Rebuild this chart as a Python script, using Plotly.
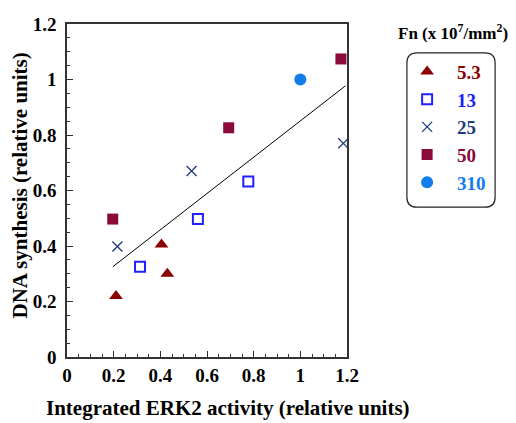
import plotly.graph_objects as go

# Data
series_names = ["5.3", "13", "25", "50", "310"]
x_53 = [0.21, 0.405, 0.43]
y_53 = [0.22, 0.405, 0.30]
x_13 = [0.313, 0.561, 0.777]
y_13 = [0.325, 0.497, 0.632]
x_25 = [0.216, 0.534, 1.184]
y_25 = [0.398, 0.670, 0.770]
x_50 = [0.196, 0.693, 1.174]
y_50 = [0.497, 0.826, 1.074]
x_310 = [1.0]
y_310 = [1.0]
fit_x = [0.196, 1.193]
fit_y = [0.325, 0.977]

x_ticks = [0, 0.2, 0.4, 0.6, 0.8, 1, 1.2]
x_ticktext = ["0", "0.2", "0.4", "0.6", "0.8", "1", "1.2"]
y_ticks = [0, 0.2, 0.4, 0.6, 0.8, 1, 1.2]
y_ticktext = ["0", "0.2", "0.4", "0.6", "0.8", "1", "1.2"]

SERIF = "Liberation Serif, Times New Roman, serif"
colors = {"5.3": "#8B0000", "13": "#1F1FFF", "25": "#1E3C7C", "50": "#8A0A3A", "310": "#127CEB"}

fig = go.Figure()

fig.add_trace(go.Scatter(x=fit_x, y=fit_y, mode="lines",
                         line=dict(color="black", width=1), showlegend=False, hoverinfo="skip"))

def lab(n):
    return "<b><span style='color:%s'>%s</span></b>" % (colors[n], n)

fig.add_trace(go.Scatter(x=x_53, y=y_53, mode="markers", name=lab("5.3"), legendgroup="a",
                         marker=dict(symbol="triangle-up", size=12, color=colors["5.3"])))
fig.add_trace(go.Scatter(x=x_13, y=y_13, mode="markers", name=lab("13"), legendgroup="b",
                         marker=dict(symbol="square-open", size=10, color=colors["13"],
                                     line=dict(width=2, color=colors["13"]))))
fig.add_trace(go.Scatter(x=x_25, y=y_25, mode="markers", name=lab("25"), legendgroup="c",
                         marker=dict(symbol="x-thin", size=10, color=colors["25"],
                                     line=dict(width=1.3, color=colors["25"]))))
fig.add_trace(go.Scatter(x=x_50, y=y_50, mode="markers", name=lab("50"), legendgroup="d",
                         marker=dict(symbol="square", size=11, color=colors["50"])))
fig.add_trace(go.Scatter(x=x_310, y=y_310, mode="markers", name=lab("310"), legendgroup="e",
                         marker=dict(symbol="circle", size=12, color=colors["310"])))

axis_common = dict(
    showline=True, linecolor="#333333", linewidth=1.5, mirror=True,
    ticks="inside", ticklen=6, tickwidth=1, tickcolor="#333333",
    showgrid=False, zeroline=False, automargin=False,
    tickfont=dict(family=SERIF, size=19, color="black"),
)

fig.update_xaxes(range=[0, 1.2], tickvals=x_ticks, ticktext=["<b>%s</b>" % t for t in x_ticktext],
                 minor=dict(dtick=0.05, ticks="inside", ticklen=3, tickcolor="#333333"),
                 **axis_common)
fig.update_yaxes(range=[0, 1.2], tickvals=y_ticks, ticktext=["<b>%s</b>" % t for t in y_ticktext],
                 minor=dict(dtick=0.05, ticks="inside", ticklen=3, tickcolor="#333333"),
                 ticklabelstandoff=5,
                 **axis_common)

# the page body has an 8px margin, so the figure is drawn 8px smaller and offset
fig.update_layout(
    width=508, height=415,
    margin=dict(l=59, r=169, t=16, b=66, autoexpand=False),
    paper_bgcolor="white", plot_bgcolor="white",
    legend=dict(x=1.179, y=0.914, xanchor="left", yanchor="top",
                font=dict(family=SERIF, size=19, color="black"),
                itemwidth=50, tracegroupgap=0, bgcolor="rgba(0,0,0,0)", borderwidth=0),
    annotations=[
        dict(text="<b>Fn (x 10<sup>7</sup>/mm<sup>2</sup>)</b>", xref="paper", yref="paper",
             x=1.378, y=0.975, xanchor="center", yanchor="middle", showarrow=False,
             font=dict(family=SERIF, size=17, color="black")),
        dict(text="<b>Integrated ERK2 activity (relative units)</b>", xref="paper", yref="paper",
             x=0.575, y=-0.153, xanchor="center", yanchor="middle", showarrow=False,
             font=dict(family=SERIF, size=21, color="black")),
        dict(text="<b>DNA synthesis (relative units)</b>", xref="paper", yref="paper",
             x=-0.168, y=0.515, xanchor="center", yanchor="middle", showarrow=False, textangle=-90,
             font=dict(family=SERIF, size=21, color="black")),
    ],
    shapes=[dict(type="path", xref="paper", yref="paper",
                 path="M 1.25,0.913 L 1.493,0.913 Q 1.529,0.913 1.529,0.883 L 1.529,0.48 "
                      "Q 1.529,0.45 1.493,0.45 L 1.25,0.45 Q 1.214,0.45 1.214,0.48 "
                      "L 1.214,0.883 Q 1.214,0.913 1.25,0.913 Z",
                 line=dict(color="#222222", width=1.2))],
)

fig.write_html("out.html")
